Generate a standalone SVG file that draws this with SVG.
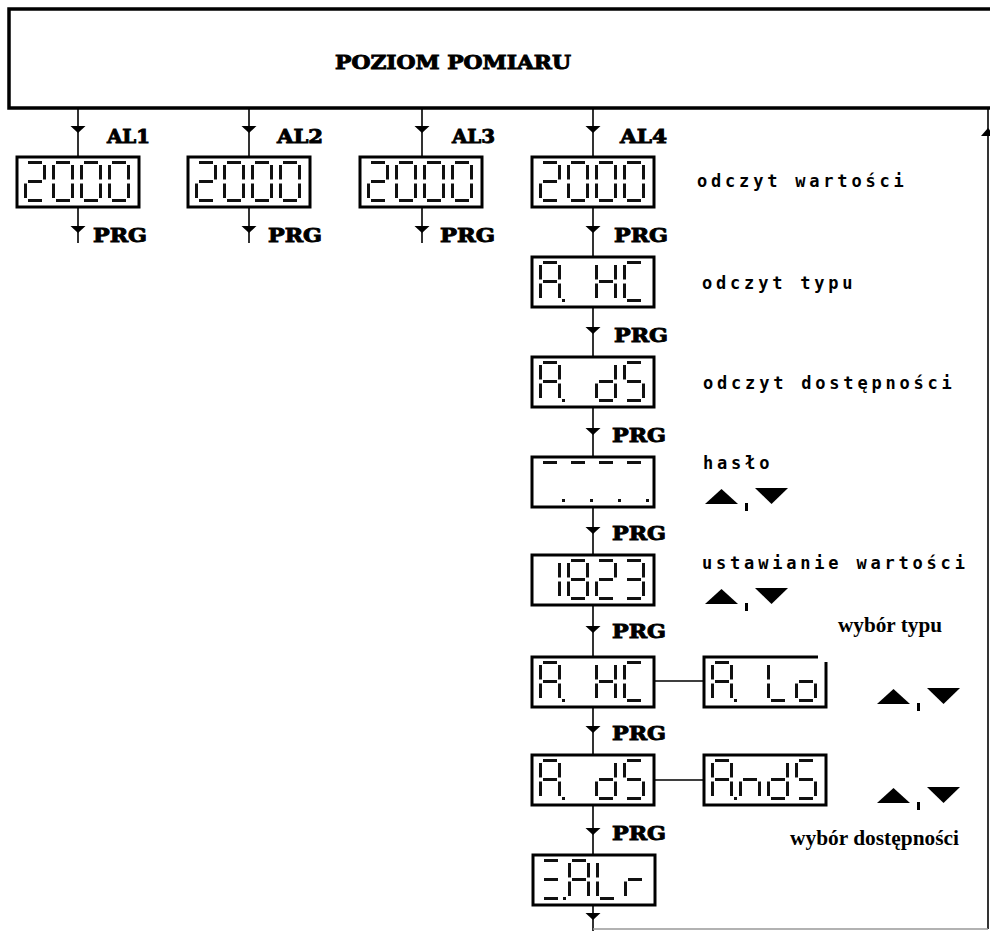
<svg xmlns="http://www.w3.org/2000/svg" xmlns:xlink="http://www.w3.org/1999/xlink" width="990" height="931" viewBox="0 0 990 931">
<style>
.s{stroke:#111;stroke-width:3;fill:none}
.dp{fill:#111}
.box{fill:#fff;stroke:#000;stroke-width:3}
.ln{stroke:#000;stroke-width:1.6;fill:none}
.ah{fill:#000}
.hv{font-family:"DejaVu Serif","Liberation Serif",serif;font-weight:bold;font-size:18px;fill:#000;stroke:#000;stroke-width:0.9px}
.mono{font-family:"DejaVu Sans Mono","Liberation Mono",monospace;font-weight:bold;font-size:17px;letter-spacing:3.8px;fill:#000}
.tm{font-family:"Liberation Serif","Times New Roman",serif;font-weight:bold;font-size:20px;fill:#000}
</style>
<defs>
<path id="sa" class="s" d="M4 1.5H18"/>
<path id="sb" class="s" d="M20.5 4V18.5"/>
<path id="sc" class="s" d="M20.5 22.5V37"/>
<path id="sd" class="s" d="M4 39.5H18"/>
<path id="se" class="s" d="M1.5 22.5V37"/>
<path id="sf" class="s" d="M1.5 4V18.5"/>
<path id="sg" class="s" d="M4 20.5H18"/>
<rect id="sp" class="dp" x="23" y="38" width="3" height="3"/>
<g id="g2"><use href="#sa"/><use href="#sb"/><use href="#sg"/><use href="#se"/><use href="#sd"/></g>
<g id="g0"><use href="#sa"/><use href="#sb"/><use href="#sc"/><use href="#sd"/><use href="#se"/><use href="#sf"/></g>
<g id="gA"><use href="#sa"/><use href="#sb"/><use href="#sc"/><use href="#se"/><use href="#sf"/><use href="#sg"/></g>
<g id="gAp"><use href="#gA"/><use href="#sp"/></g>
<g id="gH"><use href="#sb"/><use href="#sc"/><use href="#se"/><use href="#sf"/><use href="#sg"/></g>
<g id="gC"><use href="#sa"/><use href="#sd"/><use href="#se"/><use href="#sf"/></g>
<g id="gd"><use href="#sb"/><use href="#sc"/><use href="#sd"/><use href="#se"/><use href="#sg"/></g>
<g id="gS"><use href="#sa"/><use href="#sf"/><use href="#sg"/><use href="#sc"/><use href="#sd"/></g>
<g id="gm"><use href="#sa"/><use href="#sp"/></g>
<g id="g1"><use href="#sb"/><use href="#sc"/></g>
<g id="g8"><use href="#g0"/><use href="#sg"/></g>
<g id="g3"><use href="#sa"/><use href="#sb"/><use href="#sg"/><use href="#sc"/><use href="#sd"/></g>
<g id="gL"><use href="#sf"/><use href="#se"/><use href="#sd"/></g>
<g id="go"><use href="#sg"/><use href="#sc"/><use href="#sd"/><use href="#se"/></g>
<g id="gn"><use href="#sg"/><use href="#sc"/><use href="#se"/></g>
<g id="geq"><use href="#sa"/><use href="#sg"/><use href="#sd"/><use href="#sp"/></g>
<g id="gr"><use href="#se"/><use href="#sg"/></g>
<g id="d2000"><use href="#g2" x="7"/><use href="#g0" x="35"/><use href="#g0" x="63"/><use href="#g0" x="91"/></g>
<polygon id="adn" class="ah" points="-7.5,-7 7.5,-7 0,0"/>
<g id="updn">
<polygon points="705,504 721.5,489 738,504"/>
<polygon points="755,488 788,488 771.5,504"/>
<rect x="745" y="503" width="3" height="8"/>
</g>
</defs>
<rect width="990" height="931" fill="#fff"/>

<g id="connectors">
<path class="ln" d="M78 108V157M78 207V243M249 108V157M249 207V243M422 108V157M422 207V243M593 108V931"/>
<path class="ln" d="M654 681H704M654 780H704"/>
<path class="ln" d="M988 108V929" stroke="#333"/>
<path d="M593 929H988" stroke="#999" stroke-width="1.5" fill="none"/>
<use href="#adn" x="78" y="133"/><use href="#adn" x="249" y="133"/><use href="#adn" x="422" y="133"/><use href="#adn" x="593" y="133"/>
<use href="#adn" x="78" y="233"/><use href="#adn" x="249" y="233"/><use href="#adn" x="422" y="233"/><use href="#adn" x="593" y="233"/>
<use href="#adn" x="593" y="334"/><use href="#adn" x="593" y="435"/><use href="#adn" x="593" y="534"/><use href="#adn" x="593" y="633"/>
<use href="#adn" x="593" y="733"/><use href="#adn" x="593" y="835"/><use href="#adn" x="593" y="920"/>
<polygon class="ah" points="988,128 981,136 995,136"/>
</g>

<g id="top">
<rect x="9" y="9" width="1000" height="99" fill="#fff" stroke="#000" stroke-width="3.5"/>
<text class="hv" x="335" y="69" font-size="20" textLength="236" lengthAdjust="spacingAndGlyphs">POZIOM POMIARU</text>
</g>

<g id="labels">
<text class="hv" x="107" y="143" textLength="43" lengthAdjust="spacingAndGlyphs">AL1</text>
<text class="hv" x="277" y="143" textLength="46" lengthAdjust="spacingAndGlyphs">AL2</text>
<text class="hv" x="452" y="143" textLength="43" lengthAdjust="spacingAndGlyphs">AL3</text>
<text class="hv" x="620" y="143" textLength="47" lengthAdjust="spacingAndGlyphs">AL4</text>
<text class="hv" x="93" y="242" textLength="54" lengthAdjust="spacingAndGlyphs">PRG</text>
<text class="hv" x="268" y="242" textLength="54" lengthAdjust="spacingAndGlyphs">PRG</text>
<text class="hv" x="440" y="242" textLength="55" lengthAdjust="spacingAndGlyphs">PRG</text>
<text class="hv" x="614" y="242" textLength="54" lengthAdjust="spacingAndGlyphs">PRG</text>
<text class="hv" x="614" y="342" textLength="54" lengthAdjust="spacingAndGlyphs">PRG</text>
<text class="hv" x="612" y="442" textLength="54" lengthAdjust="spacingAndGlyphs">PRG</text>
<text class="hv" x="612" y="540" textLength="54" lengthAdjust="spacingAndGlyphs">PRG</text>
<text class="hv" x="612" y="638" textLength="54" lengthAdjust="spacingAndGlyphs">PRG</text>
<text class="hv" x="612" y="740" textLength="54" lengthAdjust="spacingAndGlyphs">PRG</text>
<text class="hv" x="612" y="840" textLength="54" lengthAdjust="spacingAndGlyphs">PRG</text>
<text class="mono" x="697" y="187">odczyt wartości</text>
<text class="mono" x="702" y="289">odczyt typu</text>
<text class="mono" x="703" y="389">odczyt dostępności</text>
<text class="mono" x="703" y="469">hasło</text>
<text class="mono" x="702" y="569">ustawianie wartości</text>
<text class="tm" x="838" y="632" textLength="104" lengthAdjust="spacingAndGlyphs">wybór typu</text>
<text class="tm" x="790" y="845" textLength="169" lengthAdjust="spacingAndGlyphs">wybór dostępności</text>
</g>

<g id="keys">
<use href="#updn"/>
<use href="#updn" y="100"/>
<use href="#updn" x="172" y="200"/>
<use href="#updn" x="172" y="299"/>
</g>

<g id="al1"><rect class="box" x="17" y="157" width="122" height="50"/><use href="#d2000" x="17" y="161"/></g>
<g id="al2"><rect class="box" x="188" y="157" width="122" height="50"/><use href="#d2000" x="188" y="161"/></g>
<g id="al3"><rect class="box" x="360" y="157" width="122" height="50"/><use href="#d2000" x="360" y="161"/></g>
<g id="al4"><rect class="box" x="532" y="157" width="122" height="50"/><use href="#d2000" x="532" y="161"/></g>

<g id="typ-read"><rect class="box" x="532" y="257" width="122" height="50"/>
<use href="#gAp" x="539" y="261"/><use href="#gH" x="595" y="261"/><use href="#gC" x="623" y="261"/></g>
<g id="dst-read"><rect class="box" x="532" y="357" width="122" height="50"/>
<use href="#gAp" x="539" y="361"/><use href="#gd" x="595" y="361"/><use href="#gS" x="623" y="361"/></g>
<g id="haslo"><rect class="box" x="532" y="457" width="122" height="50"/>
<use href="#gm" x="539" y="461"/><use href="#gm" x="567" y="461"/><use href="#gm" x="595" y="461"/><use href="#gm" x="623" y="461"/></g>
<g id="val-set"><rect class="box" x="532" y="555" width="122" height="50"/>
<use href="#g1" x="539" y="559"/><use href="#g8" x="567" y="559"/><use href="#g2" x="595" y="559"/><use href="#g3" x="623" y="559"/></g>
<g id="typ-sel"><rect class="box" x="532" y="657" width="122" height="50"/>
<use href="#gAp" x="539" y="661"/><use href="#gH" x="595" y="661"/><use href="#gC" x="623" y="661"/></g>
<g id="typ-lo"><rect class="box" x="704" y="657" width="122" height="50"/>
<use href="#gAp" x="711" y="661"/><use href="#gL" x="767" y="661"/><use href="#go" x="795" y="661"/>
<rect x="818" y="650" width="14" height="12" fill="#fff"/></g>
<g id="dst-sel"><rect class="box" x="532" y="755" width="122" height="50"/>
<use href="#gAp" x="539" y="759"/><use href="#gd" x="595" y="759"/><use href="#gS" x="623" y="759"/></g>
<g id="dst-and"><rect class="box" x="704" y="755" width="122" height="50"/>
<use href="#gAp" x="711" y="759"/><use href="#gn" x="739" y="759"/><use href="#gd" x="767" y="759"/><use href="#gS" x="795" y="759"/></g>
<g id="clr"><rect class="box" x="533" y="855" width="122" height="50"/>
<use href="#geq" x="540" y="859"/><use href="#gA" x="568" y="859"/><use href="#gL" x="596" y="859"/><use href="#gr" x="624" y="859"/></g>
</svg>
